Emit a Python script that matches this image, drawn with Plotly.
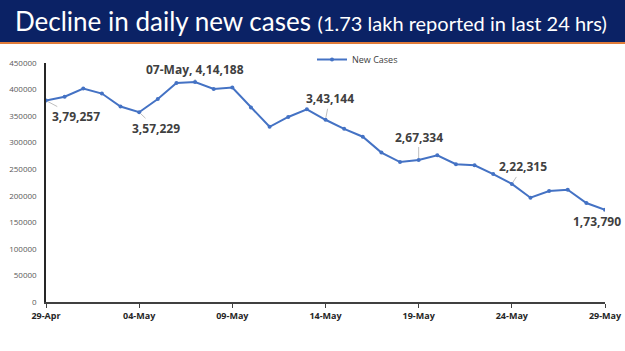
import plotly.graph_objects as go
import pandas as pd

dates = pd.date_range("2021-04-29", "2021-05-29", freq="D")
new_cases = [379257, 386452, 401993, 392488, 368147, 357229, 382315, 412262,
             414188, 401078, 403738, 366161, 329942, 348421, 362727, 343144,
             326098, 311170, 281386, 263533, 267334, 276110, 259551, 257299,
             240842, 222315, 196427, 208921, 211298, 186364, 173790]

# labelled points: (date, text, ax, ay)
label_dates = ["2021-04-29", "2021-05-04", "2021-05-07", "2021-05-14",
               "2021-05-19", "2021-05-24", "2021-05-29"]
label_texts = ["3,79,257", "3,57,229", "07-May, 4,14,188", "3,43,144",
               "2,67,334", "2,22,315", "1,73,790"]
label_ax = [30, 17, 0, 4, 0, 11, -8]
label_ay = [16, 16, -13, -21, -23, -17, 12]

fig = go.Figure()
fig.add_trace(go.Scatter(
    x=dates, y=new_cases, mode="lines+markers", name="New Cases",
    line=dict(color="#4472C4", width=2),
    marker=dict(size=4, color="#4472C4"),
))

lookup = dict(zip(dates.strftime("%Y-%m-%d"), new_cases))
for d, t, ax, ay in zip(label_dates, label_texts, label_ax, label_ay):
    fig.add_annotation(
        x=d, y=lookup[d], text="<b>%s</b>" % t, showarrow=True,
        arrowhead=0, arrowwidth=1, arrowcolor="#BFBFBF", ax=ax, ay=ay,
        standoff=2,
        font=dict(family="Open Sans", size=12, color="#404040"),
    )

# Title banner
fig.add_shape(type="rect", xref="paper", yref="paper",
              x0=-0.2, x1=1.1, y0=260 / 239, y1=303 / 239,
              fillcolor="#0B2265", line=dict(width=0), layer="below")
fig.add_shape(type="line", xref="paper", yref="paper",
              x0=-0.2, x1=1.1, y0=259 / 239, y1=259 / 239,
              line=dict(color="#E07B39", width=2))
fig.add_annotation(
    xref="paper", yref="paper", x=(13 - 46) / 559, y=(302 - 21) / 239,
    xanchor="left", yanchor="middle", showarrow=False,
    text="Decline in daily new cases <span style='font-size:20px'>(1.73 lakh reported in last 24 hrs)</span>",
    font=dict(family="Lato", size=26, color="white"),
)

fig.update_layout(
    width=625, height=351,
    margin=dict(l=46, r=20, t=63, b=49, autoexpand=False),
    paper_bgcolor="white", plot_bgcolor="white",
    showlegend=True,
    legend=dict(x=(312 - 46) / 559, y=(302 - 45) / 239, xanchor="left",
                yanchor="top", orientation="h", itemwidth=30,
                font=dict(family="Open Sans", size=9, color="#404040"),
                bgcolor="rgba(0,0,0,0)"),
    xaxis=dict(
        range=["2021-04-29", "2021-05-29"], tick0="2021-04-29",
        dtick=5 * 86400000, tickformat="%d-%b", showgrid=False,
        showline=True, linecolor="#404040", linewidth=1.5,
        ticks="outside", ticklen=4, tickcolor="#404040", automargin=False,
        tickfont=dict(family="Open Sans", size=9, color="#262626", weight="bold"),
        zeroline=False,
    ),
    yaxis=dict(
        range=[0, 450000], dtick=50000, showgrid=False, zeroline=False,
        showline=True, linecolor="#262626", linewidth=1.5, automargin=False,
        tickformat="d", ticks="", ticklabelstandoff=6,
        tickfont=dict(family="Open Sans", size=8, color="#595959"),
    ),
)

fig.write_html("out.html")
